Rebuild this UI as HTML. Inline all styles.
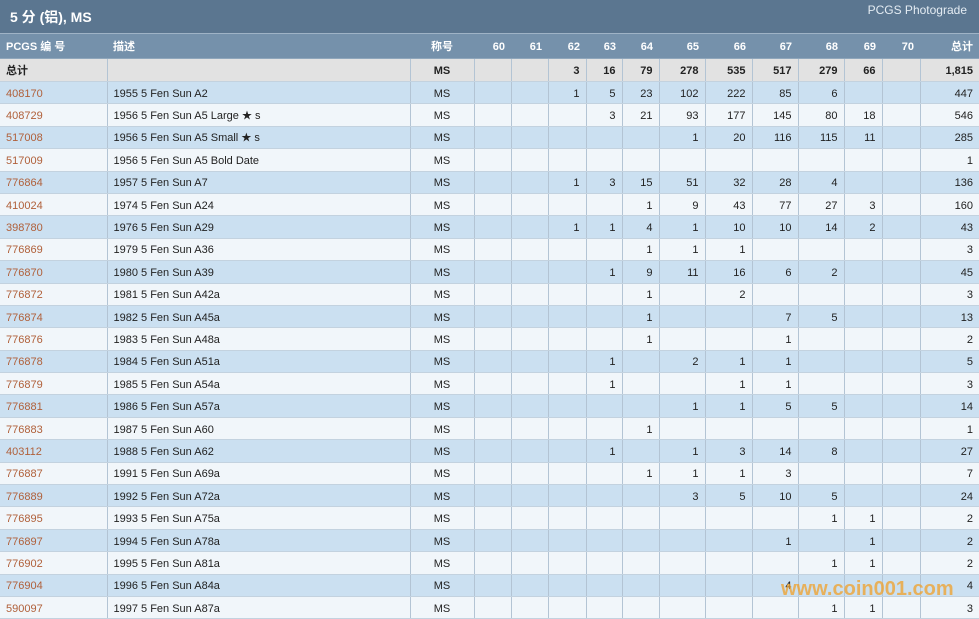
<!DOCTYPE html>
<html><head><meta charset="utf-8"><style>
body{margin:0;width:979px;height:618px;overflow:hidden;background:#fff;font-family:"Liberation Sans","Noto Sans CJK SC",sans-serif;font-size:11px;color:#222;position:relative}
.title{height:33px;background:#5b7690;color:#fff;position:relative;border-bottom:1px solid #9fb3c6}
.title .l{position:absolute;left:10px;top:7px;font-size:14px;font-weight:bold}
.title .r{position:absolute;right:12px;top:3px;font-size:12px;color:#e4ecf3}
table{border-collapse:collapse;table-layout:fixed;width:979px}
td{padding:2px 6px 0 6px;border-right:1px solid #b3c4d4;border-bottom:1px solid #c3d2df;text-align:right;white-space:nowrap;overflow:hidden;height:19.4px;line-height:14px}
td:nth-child(1),td:nth-child(2){text-align:left}
td:nth-child(3){text-align:center}
td:last-child{border-right:none}
tr.h td{background:#7591ab;color:#fff;font-weight:bold;height:22px;border-right:none;border-bottom:1px solid #8fa6bb}
tr.t td{background:#e2e2e2;font-weight:bold;height:20px}
tr.a td{background:#cbe0f1}
tr.b td{background:#f1f6fa}
td.id{color:#b0603a}
.s{font-size:10px;line-height:10px;vertical-align:baseline}
.wm{position:absolute;left:781px;top:578px;font-size:20px;font-weight:bold;color:rgba(240,160,40,0.75)}
</style></head><body>
<div class="title"><span class="l">5 分 (铝), MS</span><span class="r">PCGS Photograde</span></div>
<table>
<colgroup><col style="width:107px"><col style="width:303px"><col style="width:64px"><col style="width:37px"><col style="width:37px"><col style="width:38px"><col style="width:36px"><col style="width:37px"><col style="width:46px"><col style="width:47px"><col style="width:46px"><col style="width:46px"><col style="width:38px"><col style="width:38px"><col style="width:59px"></colgroup>
<tr class="h"><td>PCGS 编 号</td><td>描述</td><td>称号</td><td>60</td><td>61</td><td>62</td><td>63</td><td>64</td><td>65</td><td>66</td><td>67</td><td>68</td><td>69</td><td>70</td><td>总计</td></tr>
<tr class="t"><td>总计</td><td></td><td>MS</td><td></td><td></td><td>3</td><td>16</td><td>79</td><td>278</td><td>535</td><td>517</td><td>279</td><td>66</td><td></td><td>1,815</td></tr>
<tr class="a"><td class="id">408170</td><td>1955 5 Fen Sun A2</td><td>MS</td><td></td><td></td><td>1</td><td>5</td><td>23</td><td>102</td><td>222</td><td>85</td><td>6</td><td></td><td></td><td>447</td></tr>
<tr class="b"><td class="id">408729</td><td>1956 5 Fen Sun A5 Large <span class="s">★</span> s</td><td>MS</td><td></td><td></td><td></td><td>3</td><td>21</td><td>93</td><td>177</td><td>145</td><td>80</td><td>18</td><td></td><td>546</td></tr>
<tr class="a"><td class="id">517008</td><td>1956 5 Fen Sun A5 Small <span class="s">★</span> s</td><td>MS</td><td></td><td></td><td></td><td></td><td></td><td>1</td><td>20</td><td>116</td><td>115</td><td>11</td><td></td><td>285</td></tr>
<tr class="b"><td class="id">517009</td><td>1956 5 Fen Sun A5 Bold Date</td><td>MS</td><td></td><td></td><td></td><td></td><td></td><td></td><td></td><td></td><td></td><td></td><td></td><td>1</td></tr>
<tr class="a"><td class="id">776864</td><td>1957 5 Fen Sun A7</td><td>MS</td><td></td><td></td><td>1</td><td>3</td><td>15</td><td>51</td><td>32</td><td>28</td><td>4</td><td></td><td></td><td>136</td></tr>
<tr class="b"><td class="id">410024</td><td>1974 5 Fen Sun A24</td><td>MS</td><td></td><td></td><td></td><td></td><td>1</td><td>9</td><td>43</td><td>77</td><td>27</td><td>3</td><td></td><td>160</td></tr>
<tr class="a"><td class="id">398780</td><td>1976 5 Fen Sun A29</td><td>MS</td><td></td><td></td><td>1</td><td>1</td><td>4</td><td>1</td><td>10</td><td>10</td><td>14</td><td>2</td><td></td><td>43</td></tr>
<tr class="b"><td class="id">776869</td><td>1979 5 Fen Sun A36</td><td>MS</td><td></td><td></td><td></td><td></td><td>1</td><td>1</td><td>1</td><td></td><td></td><td></td><td></td><td>3</td></tr>
<tr class="a"><td class="id">776870</td><td>1980 5 Fen Sun A39</td><td>MS</td><td></td><td></td><td></td><td>1</td><td>9</td><td>11</td><td>16</td><td>6</td><td>2</td><td></td><td></td><td>45</td></tr>
<tr class="b"><td class="id">776872</td><td>1981 5 Fen Sun A42a</td><td>MS</td><td></td><td></td><td></td><td></td><td>1</td><td></td><td>2</td><td></td><td></td><td></td><td></td><td>3</td></tr>
<tr class="a"><td class="id">776874</td><td>1982 5 Fen Sun A45a</td><td>MS</td><td></td><td></td><td></td><td></td><td>1</td><td></td><td></td><td>7</td><td>5</td><td></td><td></td><td>13</td></tr>
<tr class="b"><td class="id">776876</td><td>1983 5 Fen Sun A48a</td><td>MS</td><td></td><td></td><td></td><td></td><td>1</td><td></td><td></td><td>1</td><td></td><td></td><td></td><td>2</td></tr>
<tr class="a"><td class="id">776878</td><td>1984 5 Fen Sun A51a</td><td>MS</td><td></td><td></td><td></td><td>1</td><td></td><td>2</td><td>1</td><td>1</td><td></td><td></td><td></td><td>5</td></tr>
<tr class="b"><td class="id">776879</td><td>1985 5 Fen Sun A54a</td><td>MS</td><td></td><td></td><td></td><td>1</td><td></td><td></td><td>1</td><td>1</td><td></td><td></td><td></td><td>3</td></tr>
<tr class="a"><td class="id">776881</td><td>1986 5 Fen Sun A57a</td><td>MS</td><td></td><td></td><td></td><td></td><td></td><td>1</td><td>1</td><td>5</td><td>5</td><td></td><td></td><td>14</td></tr>
<tr class="b"><td class="id">776883</td><td>1987 5 Fen Sun A60</td><td>MS</td><td></td><td></td><td></td><td></td><td>1</td><td></td><td></td><td></td><td></td><td></td><td></td><td>1</td></tr>
<tr class="a"><td class="id">403112</td><td>1988 5 Fen Sun A62</td><td>MS</td><td></td><td></td><td></td><td>1</td><td></td><td>1</td><td>3</td><td>14</td><td>8</td><td></td><td></td><td>27</td></tr>
<tr class="b"><td class="id">776887</td><td>1991 5 Fen Sun A69a</td><td>MS</td><td></td><td></td><td></td><td></td><td>1</td><td>1</td><td>1</td><td>3</td><td></td><td></td><td></td><td>7</td></tr>
<tr class="a"><td class="id">776889</td><td>1992 5 Fen Sun A72a</td><td>MS</td><td></td><td></td><td></td><td></td><td></td><td>3</td><td>5</td><td>10</td><td>5</td><td></td><td></td><td>24</td></tr>
<tr class="b"><td class="id">776895</td><td>1993 5 Fen Sun A75a</td><td>MS</td><td></td><td></td><td></td><td></td><td></td><td></td><td></td><td></td><td>1</td><td>1</td><td></td><td>2</td></tr>
<tr class="a"><td class="id">776897</td><td>1994 5 Fen Sun A78a</td><td>MS</td><td></td><td></td><td></td><td></td><td></td><td></td><td></td><td>1</td><td></td><td>1</td><td></td><td>2</td></tr>
<tr class="b"><td class="id">776902</td><td>1995 5 Fen Sun A81a</td><td>MS</td><td></td><td></td><td></td><td></td><td></td><td></td><td></td><td></td><td>1</td><td>1</td><td></td><td>2</td></tr>
<tr class="a"><td class="id">776904</td><td>1996 5 Fen Sun A84a</td><td>MS</td><td></td><td></td><td></td><td></td><td></td><td></td><td></td><td>4</td><td></td><td></td><td></td><td>4</td></tr>
<tr class="b"><td class="id">590097</td><td>1997 5 Fen Sun A87a</td><td>MS</td><td></td><td></td><td></td><td></td><td></td><td></td><td></td><td></td><td>1</td><td>1</td><td></td><td>3</td></tr>
</table>
<div class="wm">www.coin001.com</div>
</body></html>
